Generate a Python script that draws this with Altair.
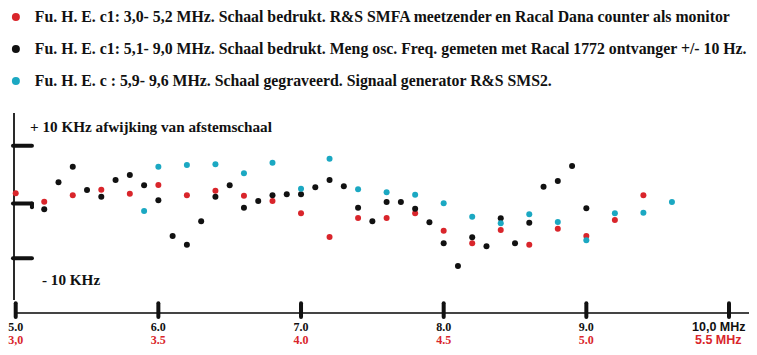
import altair as alt
import pandas as pd

# ---------------- data ----------------
L1 = "Fu. H. E. c1: 3,0- 5,2 MHz. Schaal bedrukt. R&S  SMFA meetzender en Racal Dana counter als monitor"
L2 = "Fu. H. E. c1: 5,1- 9,0 MHz. Schaal bedrukt.  Meng osc. Freq. gemeten met Racal 1772 ontvanger +/-  10 Hz."
L3 = "Fu. H. E. c : 5,9- 9,6 MHz. Schaal gegraveerd. Signaal generator R&S SMS2."
series_labels = [L1, L2, L3]
series_colors = ["#d9252b", "#111111", "#1ba8c2"]

# red series: frequency on the lower (red) scale, 3.0 - 5.5 MHz
red_mhz = [3.0, 3.1, 3.2, 3.3, 3.4, 3.5, 3.6, 3.7, 3.8, 3.9, 4.0, 4.1,
           4.2, 4.3, 4.4, 4.5, 4.6, 4.7, 4.8, 4.9, 5.0, 5.1, 5.2]
red_khz = [1.76, 0.31, 1.42, 2.39, 1.70, 3.20, 1.42, 2.21, 1.35, 0.43, -1.79, -6.11,
           -2.65, -2.65, -1.79, -4.96, -7.26, -4.84, -7.52, -4.60, -5.93, -3.01, 1.42]

# black series: frequency on the upper (black) scale, 5 - 10 MHz
black_mhz = [5.2, 5.3, 5.4, 5.5, 5.6, 5.7, 5.8, 5.9, 6.0, 6.1, 6.2, 6.3, 6.4,
             6.5, 6.6, 6.7, 6.8, 6.9, 7.0, 7.1, 7.2, 7.3, 7.4, 7.5, 7.6, 7.7,
             7.8, 7.9, 8.0, 8.1, 8.2, 8.3, 8.4, 8.5, 8.6, 8.7, 8.8, 8.9, 9.0]
black_khz = [-1.06, 3.67, 6.37, 2.34, 1.18, 4.07, 4.93, 3.15, 0.55, -5.93, -7.52, -3.25, 1.18,
             3.15, -0.77, 0.43, 1.42, 1.59, 1.59, 2.80, 4.07, 2.98, -0.77, -3.25, 0.26, 0.26,
             -0.95, -3.43, -7.26, -11.41, -6.17, -7.81, -2.70, -7.26, -3.50, 2.91, 3.89, 6.49, -0.88]

# cyan series: frequency on the upper (black) scale
cyan_mhz = [5.9, 6.0, 6.2, 6.4, 6.6, 6.8, 7.0, 7.2, 7.4, 7.6,
            7.8, 8.0, 8.2, 8.4, 8.6, 8.8, 9.0, 9.2, 9.4, 9.6]
cyan_khz = [-1.37, 6.37, 6.66, 6.78, 5.22, 7.06, 2.56, 7.75, 2.46, 1.94,
            1.52, 0.03, -2.41, -3.61, -1.97, -3.38, -6.72, -1.79, -1.68, 0.26]

# axis tick labels
tick_vals = [5, 6, 7, 8, 9]
tick_black = ["5.0", "6.0", "7.0", "8.0", "9.0"]
tick_red = ["3,0", "3.5", "4.0", "4.5", "5.0"]
last_tick = 10
last_black = "10,0 MHz"
last_red = "5.5 MHz"
y_ticks = [10, 0, -10]

# ---------------- tables ----------------
pts = pd.DataFrame({
    "series": [L1] * len(red_mhz) + [L2] * len(black_mhz) + [L3] * len(cyan_mhz),
    "mhz": red_mhz + black_mhz + cyan_mhz,
    "khz": red_khz + black_khz + cyan_khz,
    "grp": [0] * len(red_mhz) + [1] * len(black_mhz) + [2] * len(cyan_mhz),
})

xs = alt.Scale(domain=[5, 10], range=[7.7, 721], nice=False, zero=False)
ys = alt.Scale(domain=[-10, 0, 10], range=[250.3, 195.5, 137.7], nice=False, zero=False)

SERIF = "Liberation Serif"
SANS = "Liberation Sans"
AX = "#2a2a2a"
RED = "#d9252b"

points = alt.Chart(pts).transform_calculate(
    pos="datum.grp == 0 ? 5 + (datum.mhz - 3) * 2 : datum.mhz"
).mark_circle(size=36, opacity=1).encode(
    x=alt.X("pos:Q", scale=xs, axis=None),
    y=alt.Y("khz:Q", scale=ys, axis=None),
    color=alt.Color(
        "series:N",
        scale=alt.Scale(domain=series_labels, range=series_colors),
        legend=alt.Legend(
            title=None, orient="none", legendX=0, legendY=1,
            symbolType="circle", symbolSize=64, symbolStrokeWidth=0,
            labelFont=SERIF, labelFontWeight="bold", labelFontSize=15.8,
            labelColor="#111111", labelLimit=0, labelOffset=11,
            rowPadding=15, padding=0,
        ),
    ),
    order=alt.Order("grp:Q"),
)

# vertical axis line
vaxis = alt.Chart(pd.DataFrame({"x": [4.988], "y": [15.66], "y2": [-17.61]})).mark_rule(
    color=AX, strokeWidth=2).encode(
    x=alt.X("x:Q", scale=xs, axis=None),
    y=alt.Y("y:Q", scale=ys, axis=None), y2="y2:Q")

# horizontal axis line
haxis = alt.Chart(pd.DataFrame({"x": [4.99], "x2": [10.25], "y": [-20.0]})).mark_rule(
    color="#444444", strokeWidth=2).encode(
    x=alt.X("x:Q", scale=xs, axis=None), x2="x2:Q",
    y=alt.Y("y:Q", scale=ys, axis=None))

# bottom ticks
bticks = alt.Chart(pd.DataFrame({"x": tick_vals + [last_tick]})).transform_calculate(
    y="-18.2", y2="-20.7").mark_rule(
    color="#111111", strokeWidth=4, strokeCap="round").encode(
    x=alt.X("x:Q", scale=xs, axis=None),
    y=alt.Y("y:Q", scale=ys, axis=None), y2="y2:Q")

# left ticks
lticks = alt.Chart(pd.DataFrame({"y": y_ticks})).transform_calculate(
    x="4.981", x2="5.114").mark_rule(
    color="#111111", strokeWidth=4, strokeCap="round").encode(
    x=alt.X("x:Q", scale=xs, axis=None), x2="x2:Q",
    y=alt.Y("y:Q", scale=ys, axis=None))

# hook on the zero tick
hook = alt.Chart(pd.DataFrame({"y": [0]})).transform_calculate(
    x="5.114", y2="-0.7").mark_rule(
    color="#111111", strokeWidth=4, strokeCap="round").encode(
    x=alt.X("x:Q", scale=xs, axis=None),
    y=alt.Y("y:Q", scale=ys, axis=None), y2="y2:Q")

# tick labels
tl = pd.DataFrame({"x": tick_vals, "black": tick_black, "red": tick_red})
tl_black = alt.Chart(tl).transform_calculate(y="-22.5").mark_text(
    font=SERIF, fontWeight="bold", fontSize=12, color="#111111", baseline="middle").encode(
    x=alt.X("x:Q", scale=xs, axis=None), y=alt.Y("y:Q", scale=ys, axis=None), text="black:N")
tl_red = alt.Chart(tl).transform_calculate(y="-24.9").mark_text(
    font=SERIF, fontWeight="bold", fontSize=12, color=RED, baseline="middle").encode(
    x=alt.X("x:Q", scale=xs, axis=None), y=alt.Y("y:Q", scale=ys, axis=None), text="red:N")

tl2 = pd.DataFrame({"x": [last_tick], "black": [last_black], "red": [last_red]})
tl2_black = alt.Chart(tl2).transform_calculate(y="-22.5").mark_text(
    font=SANS, fontWeight="bold", fontSize=12.5, color="#111111", baseline="middle",
    align="left", dx=-37).encode(
    x=alt.X("x:Q", scale=xs, axis=None), y=alt.Y("y:Q", scale=ys, axis=None), text="black:N")
tl2_red = alt.Chart(tl2).transform_calculate(y="-24.9").mark_text(
    font=SANS, fontWeight="bold", fontSize=12.5, color=RED, baseline="middle",
    align="left", dx=-34).encode(
    x=alt.X("x:Q", scale=xs, axis=None), y=alt.Y("y:Q", scale=ys, axis=None), text="red:N")

# axis annotations
ann = pd.DataFrame({
    "x": [5.100, 5.184],
    "y": [13.24, -13.96],
    "t": ["+ 10 KHz afwijking van afstemschaal", "- 10 KHz"],
})
ann_text = alt.Chart(ann).mark_text(
    font=SERIF, fontWeight="bold", fontSize=15.2, color="#111111",
    align="left", baseline="middle").encode(
    x=alt.X("x:Q", scale=xs, axis=None), y=alt.Y("y:Q", scale=ys, axis=None), text="t:N")

chart = alt.layer(
    vaxis, haxis, bticks, lticks, hook,
    tl_black, tl_red, tl2_black, tl2_red, ann_text, points,
).properties(
    width=741, height=339, padding=0,
    autosize=alt.AutoSizeParams(type="none"),
).configure_view(stroke=None)

chart.save("out.html", embed_options={"renderer": "svg", "actions": False})
